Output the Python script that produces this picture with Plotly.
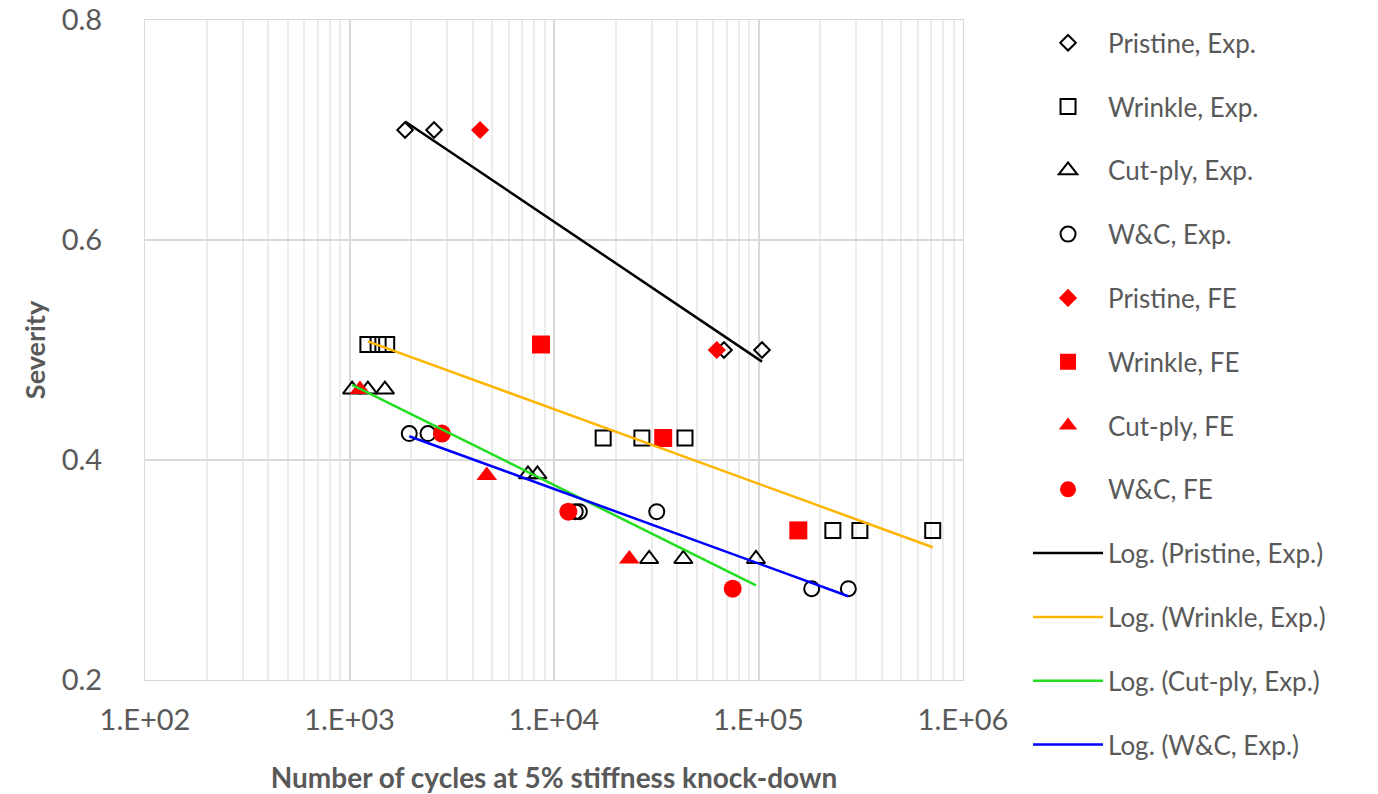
import numpy as np
import plotly.graph_objects as go

# experimental results
pristine_exp_x = [1870, 2590, 67800, 104000]
pristine_exp_y = [0.70, 0.70, 0.50, 0.50]

wrinkle_exp_x = [1230, 1380, 1520, 17400, 26900, 43700, 231000, 313000, 711000]
wrinkle_exp_y = [0.505, 0.505, 0.505, 0.42, 0.42, 0.42, 0.336, 0.336, 0.336]

cutply_exp_x = [1030, 1230, 1490, 7460, 8300, 29200, 42900, 97200]
cutply_exp_y = [0.464, 0.464, 0.464, 0.387, 0.387, 0.31, 0.31, 0.31]

wc_exp_x = [1960, 2420, 12700, 13300, 31800, 182000, 275000]
wc_exp_y = [0.424, 0.424, 0.353, 0.353, 0.353, 0.283, 0.283]

# finite element predictions
pristine_fe_x = [4350, 62500]
pristine_fe_y = [0.70, 0.50]

wrinkle_fe_x = [8640, 34200, 156600]
wrinkle_fe_y = [0.505, 0.42, 0.336]

cutply_fe_x = [1125, 4690, 23350]
cutply_fe_y = [0.464, 0.386, 0.31]

wc_fe_x = [2830, 11750, 74800]
wc_fe_y = [0.424, 0.353, 0.283]

x_tickvals = [1e2, 1e3, 1e4, 1e5, 1e6]
x_ticktext = ["1.E+02", "1.E+03", "1.E+04", "1.E+05", "1.E+06"]
y_tickvals = [0.2, 0.4, 0.6, 0.8]

GREY = "#595959"
FONT = "Lato"


def log_trend(xs, ys):
    # excel style logarithmic trendline y = a*ln(x) + b
    a, b = np.polyfit(np.log(xs), ys, 1)
    xx = np.geomspace(min(xs), max(xs), 50)
    return xx, a * np.log(xx) + b


fig = go.Figure()

open_series = [
    ("Pristine, Exp.", pristine_exp_x, pristine_exp_y, "diamond-open", 12),
    ("Wrinkle, Exp.", wrinkle_exp_x, wrinkle_exp_y, "square-open", 15),
    ("Cut-ply, Exp.", cutply_exp_x, cutply_exp_y, "triangle-up-open", 16),
    ("W&C, Exp.", wc_exp_x, wc_exp_y, "circle-open", 15),
]
fe_series = [
    ("Pristine, FE", pristine_fe_x, pristine_fe_y, "diamond", 14),
    ("Wrinkle, FE", wrinkle_fe_x, wrinkle_fe_y, "square", 18),
    ("Cut-ply, FE", cutply_fe_x, cutply_fe_y, "triangle-up", 18),
    ("W&C, FE", wc_fe_x, wc_fe_y, "circle", 18),
]

for i, (name, xs, ys, sym, sz) in enumerate(open_series):
    fig.add_trace(go.Scatter(x=xs, y=ys, mode="markers", name=name,
                             legendgroup=f"g{i}",
                             marker=dict(symbol=sym, size=sz, color="black",
                                         line=dict(width=2, color="black"))))

for i, (name, xs, ys, sym, sz) in enumerate(fe_series):
    fig.add_trace(go.Scatter(x=xs, y=ys, mode="markers", name=name,
                             legendgroup=f"g{i + 4}",
                             marker=dict(symbol=sym, size=sz, color="#ff0000")))

trend_colors = ["black", "#ffb400", "#22dd22", "#0000ff"]
for i, ((name, xs, ys, _, _), col) in enumerate(zip(open_series, trend_colors)):
    tx, ty = log_trend(xs, ys)
    fig.add_trace(go.Scatter(x=tx, y=ty, mode="lines",
                             name=f"Log. ({name})", legendgroup=f"g{i + 8}",
                             line=dict(color=col, width=2.5)))

fig.update_xaxes(type="log", range=[2, 6], automargin=False,
                 tickvals=x_tickvals, ticktext=x_ticktext,
                 tickfont=dict(family=FONT, size=29, color=GREY),
                 ticklabelstandoff=14, ticklabeloverflow="allow",
                 showgrid=True, gridcolor="#d9d9d9", gridwidth=1.5,
                 minor=dict(showgrid=True, gridcolor="#ececec",
                            tickvals=[k * 10 ** d for d in range(2, 6) for k in range(2, 10)]),
                 showline=True, linecolor="#d9d9d9", mirror=True,
                 zeroline=False, ticks="",
                 title=dict(text="<b>Number of cycles at 5% stiffness knock-down</b>",
                            font=dict(family=FONT, size=28, color=GREY), standoff=33))
fig.update_yaxes(range=[0.2, 0.8], automargin=False, tickvals=y_tickvals,
                 ticktext=[f"{v:.1f}" for v in y_tickvals],
                 tickfont=dict(family=FONT, size=29, color=GREY),
                 ticklabelstandoff=36, ticklabeloverflow="allow",
                 showgrid=True, gridcolor="#d9d9d9", gridwidth=1.5,
                 showline=True, linecolor="#d9d9d9", mirror=True,
                 zeroline=False, ticks="",
                 title=dict(text="<b>Severity</b>",
                            font=dict(family=FONT, size=27, color=GREY), standoff=8))

# page body has an 8px margin, so the figure is a little smaller than the window
fig.update_layout(
    width=1370, height=786,
    margin=dict(l=137, r=415, t=12, b=114, autoexpand=False),
    paper_bgcolor="white", plot_bgcolor="white",
    showlegend=True,
    legend=dict(x=1.0795, y=0.9856, xanchor="left", yanchor="top", yref="container",
                maxheight=780,
                font=dict(family=FONT, size=26, color=GREY),
                tracegroupgap=27, itemwidth=70, bgcolor="rgba(0,0,0,0)"),
)

fig.write_html("out.html")
